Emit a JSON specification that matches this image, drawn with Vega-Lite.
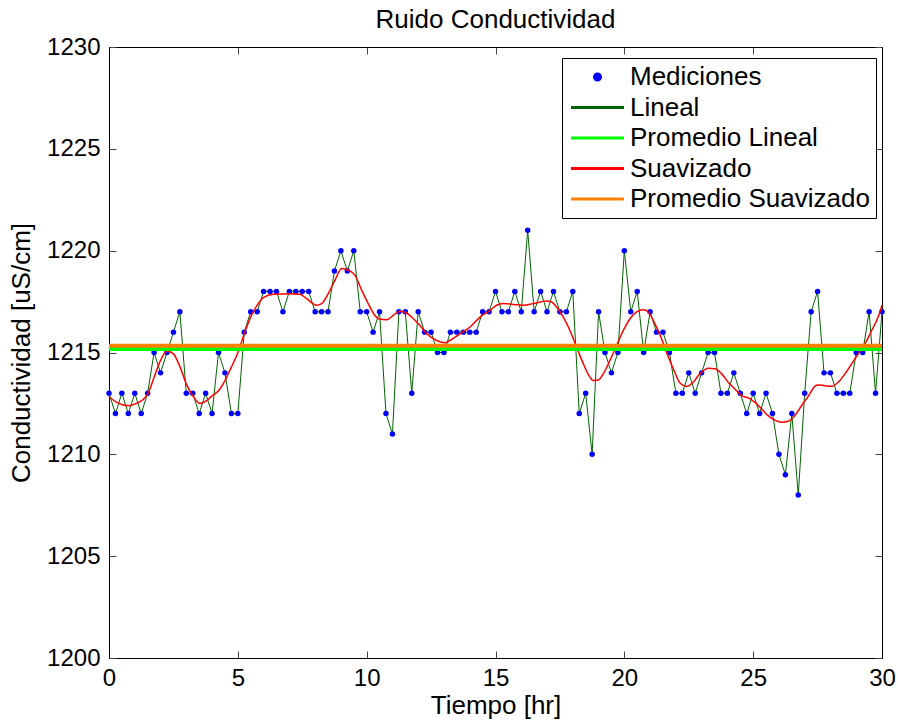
{
  "$schema": "https://vega.github.io/schema/vega-lite/v6.json",
  "width": 773,
  "height": 611,
  "autosize": {"type": "none"},
  "padding": {"left": 109, "top": 47, "right": 16, "bottom": 63},
  "background": "white",
  "title": {"text": "Ruido Conductividad", "fontSize": 26, "font": "Liberation Sans", "fontWeight": "normal", "color": "black", "offset": 2, "anchor": "middle"},
  "config": {
    "view": {"stroke": "black", "strokeWidth": 1},
    "axis": {
      "domainColor": "black", "domainWidth": 1, "tickColor": "#444", "tickSize": -7, "tickWidth": 1, "grid": false,
      "labelFont": "Liberation Sans", "labelFontSize": 24, "labelColor": "black", "labelFlush": false, "format": "d",
      "titleFont": "Liberation Sans", "titleFontSize": 26, "titleFontWeight": "normal", "titleColor": "black"
    }
  },
  "datasets": {
    "med": [
      {"t":0,"c":1213},{"t":0.25,"c":1212},{"t":0.5,"c":1213},{"t":0.75,"c":1212},{"t":1,"c":1213},{"t":1.25,"c":1212},{"t":1.5,"c":1213},{"t":1.75,"c":1215},{"t":2,"c":1214},{"t":2.25,"c":1215},{"t":2.5,"c":1216},{"t":2.75,"c":1217},
      {"t":3,"c":1213},{"t":3.25,"c":1213},{"t":3.5,"c":1212},{"t":3.75,"c":1213},{"t":4,"c":1212},{"t":4.25,"c":1215},{"t":4.5,"c":1214},{"t":4.75,"c":1212},{"t":5,"c":1212},{"t":5.25,"c":1216},{"t":5.5,"c":1217},{"t":5.75,"c":1217},
      {"t":6,"c":1218},{"t":6.25,"c":1218},{"t":6.5,"c":1218},{"t":6.75,"c":1217},{"t":7,"c":1218},{"t":7.25,"c":1218},{"t":7.5,"c":1218},{"t":7.75,"c":1218},{"t":8,"c":1217},{"t":8.25,"c":1217},{"t":8.5,"c":1217},{"t":8.75,"c":1219},
      {"t":9,"c":1220},{"t":9.25,"c":1219},{"t":9.5,"c":1220},{"t":9.75,"c":1217},{"t":10,"c":1217},{"t":10.25,"c":1216},{"t":10.5,"c":1217},{"t":10.75,"c":1212},{"t":11,"c":1211},{"t":11.25,"c":1217},{"t":11.5,"c":1217},{"t":11.75,"c":1213},
      {"t":12,"c":1217},{"t":12.25,"c":1216},{"t":12.5,"c":1216},{"t":12.75,"c":1215},{"t":13,"c":1215},{"t":13.25,"c":1216},{"t":13.5,"c":1216},{"t":13.75,"c":1216},{"t":14,"c":1216},{"t":14.25,"c":1216},{"t":14.5,"c":1217},{"t":14.75,"c":1217},
      {"t":15,"c":1218},{"t":15.25,"c":1217},{"t":15.5,"c":1217},{"t":15.75,"c":1218},{"t":16,"c":1217},{"t":16.25,"c":1221},{"t":16.5,"c":1217},{"t":16.75,"c":1218},{"t":17,"c":1217},{"t":17.25,"c":1218},{"t":17.5,"c":1217},{"t":17.75,"c":1217},
      {"t":18,"c":1218},{"t":18.25,"c":1212},{"t":18.5,"c":1213},{"t":18.75,"c":1210},{"t":19,"c":1217},{"t":19.25,"c":1215},{"t":19.5,"c":1214},{"t":19.75,"c":1215},{"t":20,"c":1220},{"t":20.25,"c":1217},{"t":20.5,"c":1218},{"t":20.75,"c":1215},
      {"t":21,"c":1217},{"t":21.25,"c":1216},{"t":21.5,"c":1216},{"t":21.75,"c":1215},{"t":22,"c":1213},{"t":22.25,"c":1213},{"t":22.5,"c":1214},{"t":22.75,"c":1213},{"t":23,"c":1214},{"t":23.25,"c":1215},{"t":23.5,"c":1215},{"t":23.75,"c":1213},
      {"t":24,"c":1213},{"t":24.25,"c":1214},{"t":24.5,"c":1213},{"t":24.75,"c":1212},{"t":25,"c":1213},{"t":25.25,"c":1212},{"t":25.5,"c":1213},{"t":25.75,"c":1212},{"t":26,"c":1210},{"t":26.25,"c":1209},{"t":26.5,"c":1212},{"t":26.75,"c":1208},
      {"t":27,"c":1213},{"t":27.25,"c":1217},{"t":27.5,"c":1218},{"t":27.75,"c":1214},{"t":28,"c":1214},{"t":28.25,"c":1213},{"t":28.5,"c":1213},{"t":28.75,"c":1213},{"t":29,"c":1215},{"t":29.25,"c":1215},{"t":29.5,"c":1217},{"t":29.75,"c":1213},
      {"t":30,"c":1217}
    ],
    "suav": [
      {"t":0,"v":1212.83},{"t":0.3,"v":1212.55},{"t":0.75,"v":1212.39},{"t":1.07,"v":1212.5},{"t":1.5,"v":1212.96},{"t":1.75,"v":1213.78},{"t":2.0,"v":1214.61},{"t":2.25,"v":1215.07},{"t":2.5,"v":1214.93},{"t":2.76,"v":1214.28},
      {"t":3.0,"v":1213.46},{"t":3.25,"v":1212.88},{"t":3.53,"v":1212.5},{"t":3.79,"v":1212.64},{"t":4.01,"v":1212.88},{"t":4.26,"v":1213.13},{"t":4.5,"v":1213.62},{"t":4.75,"v":1214.28},{"t":5.01,"v":1215.02},{"t":5.25,"v":1215.92},
      {"t":5.5,"v":1216.75},{"t":5.74,"v":1217.3},{"t":5.99,"v":1217.7},{"t":6.38,"v":1217.86},{"t":7.02,"v":1217.89},{"t":7.41,"v":1217.86},{"t":7.67,"v":1217.64},{"t":8.06,"v":1217.32},{"t":8.25,"v":1217.4},{"t":8.51,"v":1217.89},
      {"t":8.77,"v":1218.55},{"t":9.03,"v":1219.12},{"t":9.29,"v":1219.04},{"t":9.55,"v":1218.79},{"t":9.81,"v":1218.05},{"t":10.06,"v":1217.4},{"t":10.32,"v":1216.82},{"t":10.52,"v":1216.63},{"t":10.78,"v":1216.61},{"t":11.03,"v":1216.82},
      {"t":11.29,"v":1217.03},{"t":11.55,"v":1216.94},{"t":11.81,"v":1216.66},{"t":12.07,"v":1216.33},{"t":12.33,"v":1215.92},{"t":12.72,"v":1215.59},{"t":13.04,"v":1215.48},{"t":13.23,"v":1215.59},{"t":13.62,"v":1215.92},{"t":14.01,"v":1216.25},
      {"t":14.4,"v":1216.74},{"t":14.79,"v":1217.07},{"t":15.04,"v":1217.32},{"t":15.3,"v":1217.4},{"t":15.69,"v":1217.36},{"t":16.08,"v":1217.32},{"t":16.46,"v":1217.4},{"t":16.98,"v":1217.53},{"t":17.18,"v":1217.48},{"t":17.37,"v":1217.23},
      {"t":17.63,"v":1216.74},{"t":17.89,"v":1216.08},{"t":18.15,"v":1215.26},{"t":18.41,"v":1214.44},{"t":18.67,"v":1213.78},{"t":18.79,"v":1213.62},{"t":18.99,"v":1213.65},{"t":19.18,"v":1213.95},{"t":19.44,"v":1214.61},{"t":19.7,"v":1215.34},
      {"t":19.96,"v":1216.08},{"t":20.22,"v":1216.66},{"t":20.48,"v":1216.99},{"t":20.73,"v":1217.1},{"t":20.93,"v":1216.99},{"t":21.12,"v":1216.58},{"t":21.38,"v":1215.88},{"t":21.64,"v":1215.0},{"t":21.9,"v":1214.2},{"t":22.16,"v":1213.5},
      {"t":22.42,"v":1213.33},{"t":22.67,"v":1213.54},{"t":22.93,"v":1213.95},{"t":23.26,"v":1214.23},{"t":23.52,"v":1214.2},{"t":23.78,"v":1213.95},{"t":24.03,"v":1213.54},{"t":24.29,"v":1213.21},{"t":24.55,"v":1212.88},{"t":24.81,"v":1212.77},
      {"t":25.07,"v":1212.55},{"t":25.33,"v":1212.22},{"t":25.58,"v":1211.9},{"t":25.84,"v":1211.68},{"t":26.1,"v":1211.57},{"t":26.36,"v":1211.62},{"t":26.62,"v":1211.9},{"t":26.88,"v":1212.4},{"t":27.14,"v":1212.85},{"t":27.4,"v":1213.35},
      {"t":27.52,"v":1213.41},{"t":27.78,"v":1213.37},{"t":28.04,"v":1213.34},{"t":28.3,"v":1213.54},{"t":28.56,"v":1213.95},{"t":28.82,"v":1214.44},{"t":29.08,"v":1214.93},{"t":29.34,"v":1215.43},{"t":29.6,"v":1216.08},{"t":29.85,"v":1216.74},
      {"t":30,"v":1217.32}
    ],
    "prom": [
      {"serie": "Promedio Lineal", "v": 1215.17},
      {"serie": "Promedio Suavizado", "v": 1215.33}
    ]
  },
  "layer": [
    {
      "data": {"name": "med"},
      "mark": {"type": "line", "strokeWidth": 1},
      "encoding": {
        "x": {"field": "t", "type": "quantitative", "scale": {"domain": [0, 30], "nice": false, "zero": false},
              "axis": {"orient": "bottom", "values": [0, 5, 10, 15, 20, 25, 30], "title": "Tiempo [hr]", "labelPadding": 15, "titlePadding": 2}},
        "y": {"field": "c", "type": "quantitative", "scale": {"domain": [1200, 1230], "nice": false, "zero": false},
              "axis": {"orient": "left", "values": [1200, 1205, 1210, 1215, 1220, 1225, 1230], "title": "Conductividad [uS/cm]", "labelPadding": 16, "titlePadding": 12}},
        "color": {"datum": "Lineal", "type": "nominal",
          "scale": {"domain": ["Mediciones", "Lineal", "Promedio Lineal", "Suavizado", "Promedio Suavizado"], "range": ["#0000ff", "#006400", "#00ff00", "#ff0000", "#ff8000"]},
          "legend": {
            "orient": "none", "legendX": 453, "legendY": 11, "title": null,
            "symbolType": "stroke", "symbolSize": 400, "symbolStrokeWidth": 3,
            "labelFont": "Liberation Sans", "labelFontSize": 26, "labelColor": "black", "labelOffset": 36, "labelLimit": 500,
            "strokeColor": "black", "fillColor": "white", "padding": 6, "rowPadding": 4.5,
            "encode": {"symbols": {"update": {
              "shape": {"signal": "datum.value === 'Mediciones' ? 'M1.95,0A0.3,0.3 0 1,1 1.35,0A0.3,0.3 0 1,1 1.95,0Z' : 'M-1,0L4.3,0'"},
              "size": {"value": 400},
              "fill": [{"test": "datum.value === 'Mediciones'", "value": "#0000ff"}, {"value": "transparent"}],
              "stroke": [{"test": "datum.value === 'Mediciones'", "value": "transparent"}, {"scale": "color", "field": "value"}],
              "strokeWidth": {"value": 3},
              "opacity": {"value": 1}
            }}}
          }}
      }
    },
    {
      "data": {"name": "med"},
      "mark": {"type": "point", "filled": true, "shape": "circle", "size": 30, "opacity": 1},
      "encoding": {
        "x": {"field": "t", "type": "quantitative", "axis": {"orient": "top", "values": [0, 5, 10, 15, 20, 25, 30], "labels": false, "title": null}},
        "y": {"field": "c", "type": "quantitative", "axis": {"orient": "right", "values": [1200, 1205, 1210, 1215, 1220, 1225, 1230], "labels": false, "title": null}},
        "color": {"datum": "Mediciones", "type": "nominal"}
      }
    },
    {
      "data": {"name": "suav"},
      "mark": {"type": "line", "strokeWidth": 1.5, "interpolate": "monotone"},
      "encoding": {
        "x": {"field": "t", "type": "quantitative", "axis": null},
        "y": {"field": "v", "type": "quantitative", "axis": null},
        "color": {"datum": "Suavizado", "type": "nominal"}
      }
    },
    {
      "data": {"name": "prom"},
      "mark": {"type": "rule", "strokeWidth": 4},
      "encoding": {
        "y": {"field": "v", "type": "quantitative", "axis": null},
        "color": {"field": "serie", "type": "nominal", "title": null}
      }
    }
  ],
  "resolve": {"axis": {"x": "independent", "y": "independent"}}
}
